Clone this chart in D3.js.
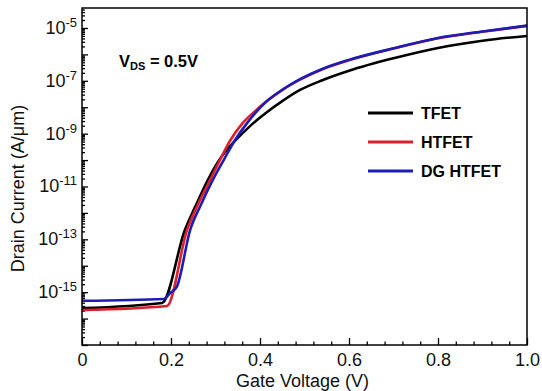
<!DOCTYPE html>
<html>
<head>
<meta charset="utf-8">
<script src="https://cdn.jsdelivr.net/npm/d3@7"></script>
<style>
  body { margin: 0; background: #fff; }
  svg { display: block; font-family: "Liberation Sans", Arial, sans-serif; }
</style>
</head>
<body>
<svg></svg>
<script>
const width = 542;
const height = 391;
const margin = {top: 8, right: 15, bottom: 46, left: 82};

// Gate voltage (V) and drain current (A/um)
const tfetVg = [0, 0.18, 0.231, 0.255, 0.283, 0.31, 0.348, 0.38, 0.416, 0.45, 0.49, 0.54, 0.6, 0.7, 0.8, 0.9, 1.0];
const tfetId = [2.5e-16, 3.9e-16, 2.2e-13, 1.8e-12, 1.8e-11, 1.1e-10, 6.3e-10, 2.1e-9, 6.6e-9, 1.7e-8, 4.5e-8, 1.05e-7, 2.4e-7, 7.1e-7, 1.75e-6, 3.3e-6, 5.0e-6];

const htfetVg = [0, 0.191, 0.236, 0.26, 0.288, 0.31, 0.333, 0.36, 0.39, 0.416, 0.45, 0.49, 0.54, 0.6, 0.7, 0.8, 0.9, 1.0];
const htfetId = [2.1e-16, 3.0e-16, 2.24e-13, 2.0e-12, 1.78e-11, 1.0e-10, 5.5e-10, 2.4e-9, 7.4e-9, 1.74e-8, 4.47e-8, 1.1e-7, 2.75e-7, 6.0e-7, 1.66e-6, 4.07e-6, 7.2e-6, 1.2e-5];

const dgVg = [0, 0.184, 0.198, 0.213, 0.243, 0.267, 0.294, 0.32, 0.344, 0.373, 0.416, 0.45, 0.49, 0.54, 0.6, 0.7, 0.8, 0.9, 1.0];
const dgId = [4.7e-16, 5.5e-16, 9.3e-16, 1.6e-15, 2.24e-13, 2.0e-12, 1.78e-11, 1.12e-10, 5.75e-10, 2.8e-9, 1.74e-8, 4.57e-8, 1.15e-7, 2.8e-7, 6.2e-7, 1.7e-6, 4.2e-6, 7.4e-6, 1.23e-5];

const seriesNames = ["TFET", "HTFET", "DG HTFET"];
const seriesColors = ["#000000", "#dd1f2b", "#1d1db5"];

const xTicks = [0, 0.2, 0.4, 0.6, 0.8, 1.0];
const yLabelExps = [-15, -13, -11, -9, -7, -5];

const svg = d3.select("svg")
    .attr("width", width)
    .attr("height", height);

const x = d3.scaleLinear()
    .domain([0, 1])
    .range([margin.left, width - margin.right]);

const y = d3.scaleLog()
    .domain([1e-17, 5.7e-5])
    .range([height - margin.bottom, margin.top]);

// Build series from the arrays
const series = [
    {name: seriesNames[0], color: seriesColors[0], v: tfetVg, i: tfetId},
    {name: seriesNames[1], color: seriesColors[1], v: htfetVg, i: htfetId},
    {name: seriesNames[2], color: seriesColors[2], v: dgVg, i: dgId}
].map(s => ({...s, points: s.v.map((v, k) => [v, s.i[k]])}));

// Minor and major ticks on x axis (pointing inward)
const xMinor = d3.range(0, 1.0001, 0.04).filter(v => Math.abs(v / 0.2 - Math.round(v / 0.2)) > 1e-6);
svg.append("g")
    .attr("transform", `translate(0,${height - margin.bottom})`)
    .call(d3.axisBottom(x).tickValues(xMinor).tickSize(-3.5).tickFormat(""))
    .call(g => g.select(".domain").remove());

svg.append("g")
    .attr("transform", `translate(0,${height - margin.bottom})`)
    .call(d3.axisBottom(x).tickValues(xTicks).tickSize(-7).tickPadding(8))
    .call(g => g.select(".domain").remove())
    .call(g => g.selectAll("text")
        .text(d => d === 0 ? "0" : d3.format(".1f")(d))
        .attr("font-size", 18)
        .attr("font-family", "Liberation Sans, Arial, sans-serif")
        .attr("fill", "#111"));

// y axis ticks: every decade major, 2..9 minor
const decades = d3.range(-17, -4).map(e => Math.pow(10, e));
const yMinor = [];
d3.range(-17, -4).forEach(e => {
    for (let m = 2; m <= 9; m++) {
        const val = m * Math.pow(10, e);
        if (val <= y.domain()[1]) yMinor.push(val);
    }
});
svg.append("g")
    .attr("transform", `translate(${margin.left},0)`)
    .call(d3.axisLeft(y).tickValues(yMinor).tickSize(-3).tickFormat(""))
    .call(g => g.select(".domain").remove());
svg.append("g")
    .attr("transform", `translate(${margin.left},0)`)
    .call(d3.axisLeft(y).tickValues(decades).tickSize(-6).tickFormat(""))
    .call(g => g.select(".domain").remove());
svg.selectAll(".tick line").attr("stroke", "#000").attr("stroke-width", 1.3);

// y labels 10^n
const yLab = svg.append("g")
    .attr("font-size", 18)
    .attr("fill", "#111");
yLabelExps.forEach(e => {
    const t = yLab.append("text")
        .attr("x", margin.left - 5)
        .attr("y", y(Math.pow(10, e)) + 6)
        .attr("text-anchor", "end");
    t.append("tspan").text("10");
    t.append("tspan").attr("font-size", 13).attr("dy", -7).text(String(e));
});

// Curves
const line = d3.line()
    .x(d => x(d[0]))
    .y(d => y(d[1]))
    .curve(d3.curveMonotoneX);

svg.append("g")
    .selectAll("path")
    .data(series)
    .join("path")
    .attr("d", d => line(d.points))
    .attr("fill", "none")
    .attr("stroke", d => d.color)
    .attr("stroke-width", 2.6)
    .attr("stroke-linejoin", "round");

// Frame around plot area
svg.append("rect")
    .attr("x", margin.left)
    .attr("y", margin.top)
    .attr("width", width - margin.left - margin.right)
    .attr("height", height - margin.top - margin.bottom)
    .attr("fill", "none")
    .attr("stroke", "#000")
    .attr("stroke-width", 1.5);

// Legend
const legend = svg.append("g");
series.forEach((s, k) => {
    const ly = 113 + k * 29;
    legend.append("line")
        .attr("x1", 368).attr("x2", 413)
        .attr("y1", ly).attr("y2", ly)
        .attr("stroke", s.color)
        .attr("stroke-width", 3);
    legend.append("text")
        .attr("x", 421)
        .attr("y", ly + 5.5)
        .attr("font-size", 16)
        .attr("font-weight", "bold")
        .text(s.name);
});

// Bias annotation
const note = svg.append("text")
    .attr("x", 119)
    .attr("y", 67)
    .attr("font-size", 16.5)
    .attr("font-weight", "bold");
note.append("tspan").text("V");
note.append("tspan").attr("font-size", 11).attr("dy", 3).text("DS");
note.append("tspan").attr("dy", -3).text(" = 0.5V");

// Axis titles
svg.append("text")
    .attr("x", x(0.5) - 2)
    .attr("y", 387)
    .attr("text-anchor", "middle")
    .attr("font-size", 18)
    .attr("fill", "#111")
    .text("Gate Voltage (V)");

svg.append("text")
    .attr("transform", `translate(24,${(margin.top + height - margin.bottom) / 2 + 12}) rotate(-90)`)
    .attr("text-anchor", "middle")
    .attr("font-size", 18)
    .attr("fill", "#111")
    .text("Drain Current (A/\u03bcm)");
</script>
</body>
</html>
